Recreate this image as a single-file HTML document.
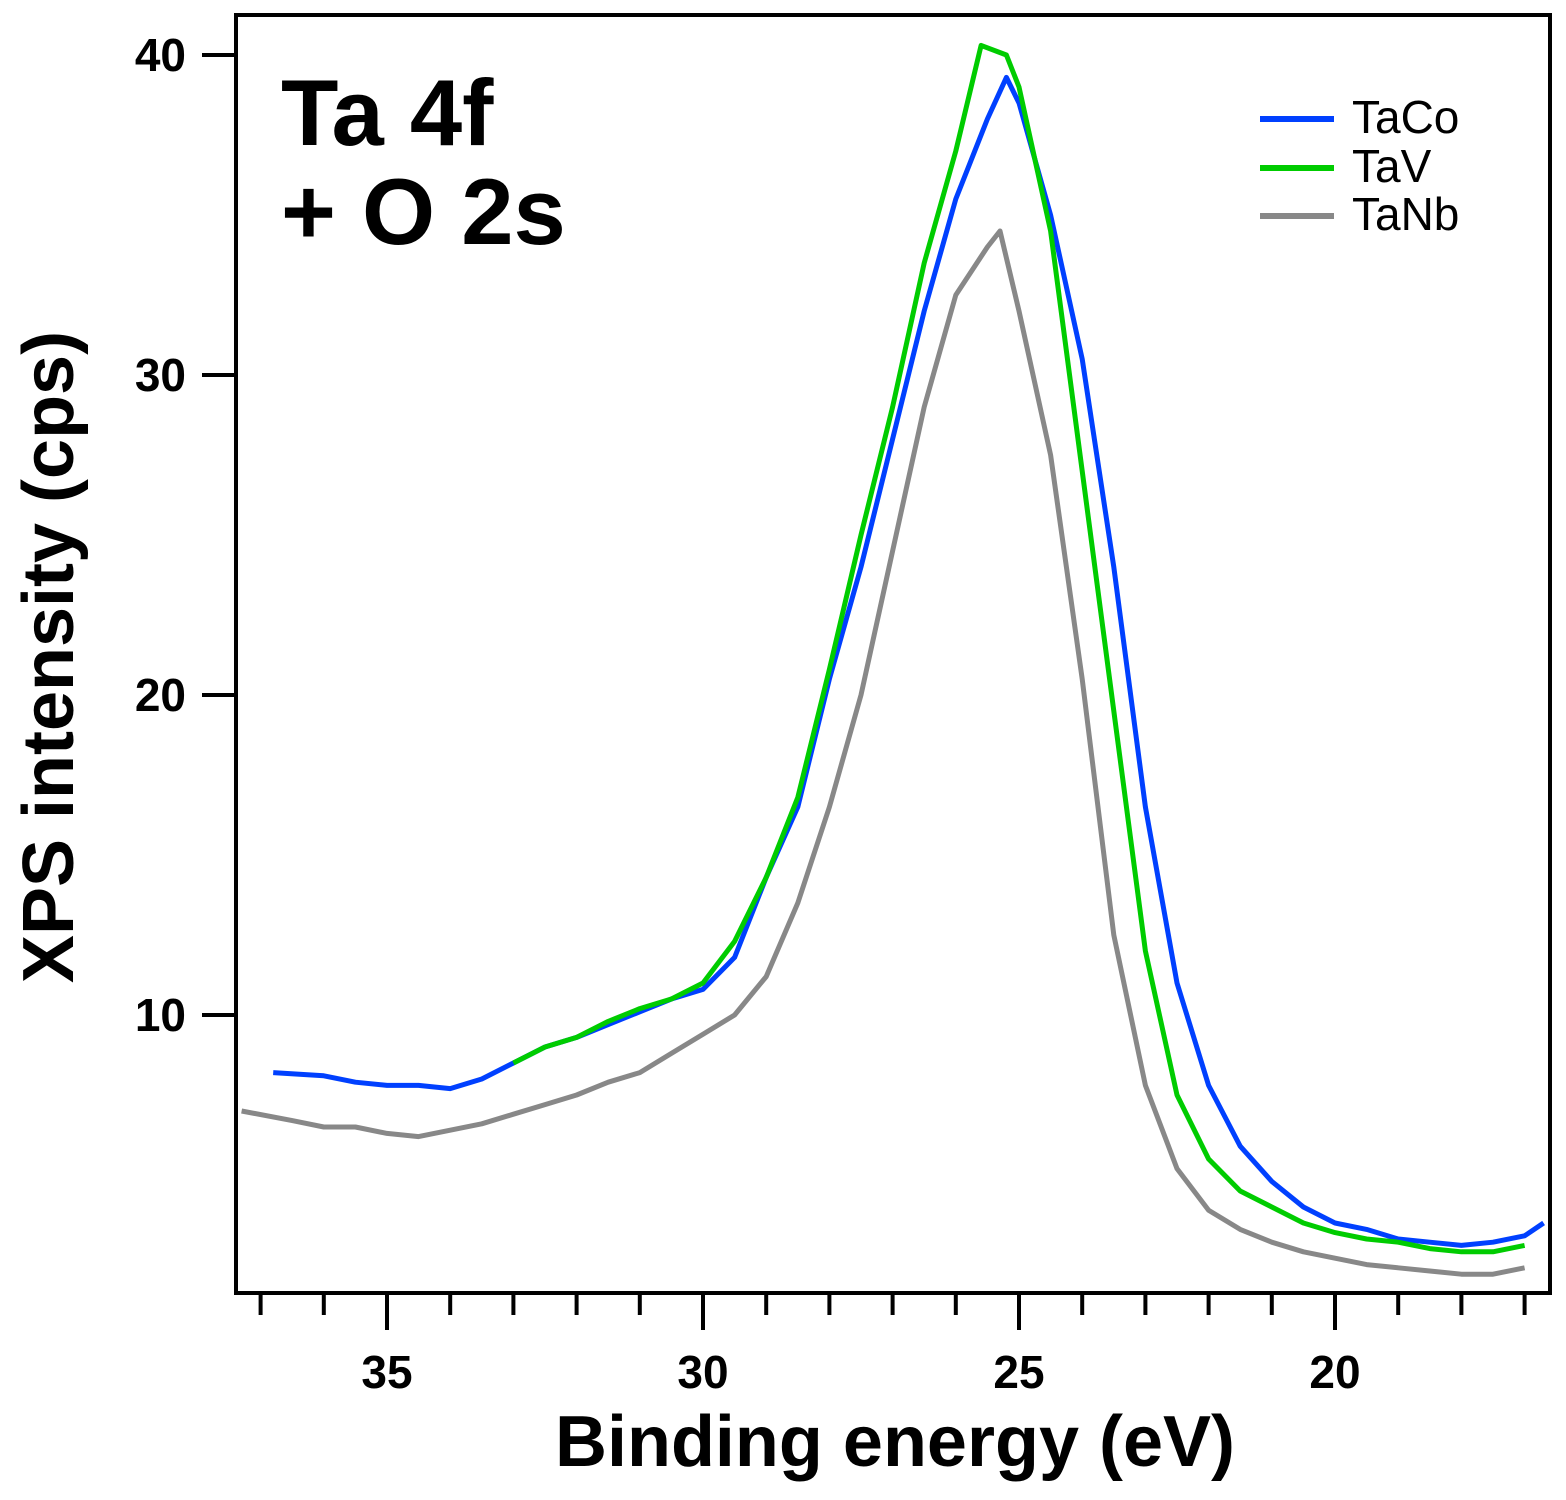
<!DOCTYPE html>
<html><head><meta charset="utf-8"><style>
html,body{margin:0;padding:0;background:#fff;}
svg{display:block;font-family:"Liberation Sans",Arial,sans-serif;}
</style></head><body>
<svg id="chart" width="1566" height="1500" xmlns="http://www.w3.org/2000/svg">
<g id="series"></g>
<rect x="236" y="15" width="1314" height="1278" fill="none" stroke="#000" stroke-width="4"/>
<g id="axes"></g>
<text x="895" y="1466" font-size="72" font-weight="bold" text-anchor="middle">Binding energy (eV)</text>
<text transform="translate(73,657) rotate(-90)" font-size="72" font-weight="bold" text-anchor="middle">XPS intensity (cps)</text>
<text x="281" y="145" font-size="94" font-weight="bold">Ta 4f</text>
<text x="281" y="244" font-size="94" font-weight="bold">+ O 2s</text>
<g>
<line x1="1260" y1="119" x2="1334" y2="119" stroke="#0040ff" stroke-width="6"/>
<text x="1352" y="133" font-size="46">TaCo</text>
<line x1="1260" y1="168" x2="1334" y2="168" stroke="#00cc00" stroke-width="6"/>
<text x="1352" y="182" font-size="46">TaV</text>
<line x1="1260" y1="216" x2="1334" y2="216" stroke="#888888" stroke-width="6"/>
<text x="1352" y="230" font-size="46">TaNb</text>
</g>
</svg>
<script>
const coE=[36.8,36,35.5,35,34.5,34,33.5,33,32.5,32,31.5,31,30.5,30,29.5,29,28.5,28,27.5,27,26.5,26,25.5,25.2,25,24.5,24,23.5,23,22.5,22,21.5,21,20.5,20,19.5,19,18.5,18,17.5,17,16.7];
const coI=[8.2,8.1,7.9,7.8,7.8,7.7,8.0,8.5,9.0,9.3,9.7,10.1,10.5,10.8,11.8,14.3,16.5,20.5,24,28,32,35.5,38,39.3,38.5,35,30.5,24,16.5,11,7.8,5.9,4.8,4.0,3.5,3.3,3.0,2.9,2.8,2.9,3.1,3.5];
const vE=[33,32.5,32,31.5,31,30.5,30,29.5,29,28.5,28,27.5,27,26.5,26,25.6,25.2,25,24.5,24,23.5,23,22.5,22,21.5,21,20.5,20,19.5,19,18.5,18,17.5,17];
const vI=[8.5,9.0,9.3,9.8,10.2,10.5,11.0,12.3,14.3,16.8,20.8,25,29,33.5,37,40.3,40,39,34.5,27,19.5,12,7.5,5.5,4.5,4.0,3.5,3.2,3.0,2.9,2.7,2.6,2.6,2.8];
const nbE=[37.3,36.5,36,35.5,35,34.5,34,33.5,33,32.5,32,31.5,31,30.5,30,29.5,29,28.5,28,27.5,27,26.5,26,25.5,25.3,25,24.5,24,23.5,23,22.5,22,21.5,21,20.5,20,19.5,19,18.5,18,17.5,17];
const nbI=[7.0,6.7,6.5,6.5,6.3,6.2,6.4,6.6,6.9,7.2,7.5,7.9,8.2,8.8,9.4,10.0,11.2,13.5,16.5,20,24.5,29,32.5,34,34.5,32,27.5,20.5,12.5,7.8,5.2,3.9,3.3,2.9,2.6,2.4,2.2,2.1,2.0,1.9,1.9,2.1];
const xTicks=[35,30,25,20];
const yTicks=[10,20,30,40];
const X=e=>387+(35-e)*63.2;
const Y=v=>1335-v*32;
const NS="http://www.w3.org/2000/svg";
const ser=document.getElementById('series');
function line(E,I,c,name){
  const p=document.createElementNS(NS,'polyline');
  p.setAttribute('points',E.map((e,i)=>X(e).toFixed(1)+','+Y(I[i]).toFixed(1)).join(' '));
  p.setAttribute('fill','none');p.setAttribute('stroke',c);p.setAttribute('stroke-width','5');p.setAttribute('stroke-linejoin','round');
  
  
  ser.appendChild(p);
}
line(nbE,nbI,'#888888','series-tanb');
line(coE,coI,'#0040ff','series-taco');
line(vE,vI,'#00cc00','series-tav');
const ax=document.getElementById('axes');
for(let e=17;e<=37;e++){
  const l=document.createElementNS(NS,'line');
  const major=e%5===0;
  l.setAttribute('x1',X(e));l.setAttribute('x2',X(e));l.setAttribute('y1',1295);l.setAttribute('y2',major?1330:1315);
  l.setAttribute('stroke','#000');l.setAttribute('stroke-width','4');
  
  
  ax.appendChild(l);
}
xTicks.forEach(e=>{
  const t=document.createElementNS(NS,'text');
  t.setAttribute('x',X(e));t.setAttribute('y',1388);t.setAttribute('font-size','46');t.setAttribute('font-weight','bold');t.setAttribute('text-anchor','middle');
  t.textContent=e;
  
  
  ax.appendChild(t);
});
yTicks.forEach(v=>{
  const l=document.createElementNS(NS,'line');
  l.setAttribute('x1',202);l.setAttribute('x2',236);l.setAttribute('y1',Y(v));l.setAttribute('y2',Y(v));
  l.setAttribute('stroke','#000');l.setAttribute('stroke-width','4');
  
  
  ax.appendChild(l);
  const t=document.createElementNS(NS,'text');
  t.setAttribute('x',186);t.setAttribute('y',Y(v)+16);t.setAttribute('font-size','46');t.setAttribute('font-weight','bold');t.setAttribute('text-anchor','end');
  t.textContent=v;
  
  
  ax.appendChild(t);
});
</script>
</body></html>
